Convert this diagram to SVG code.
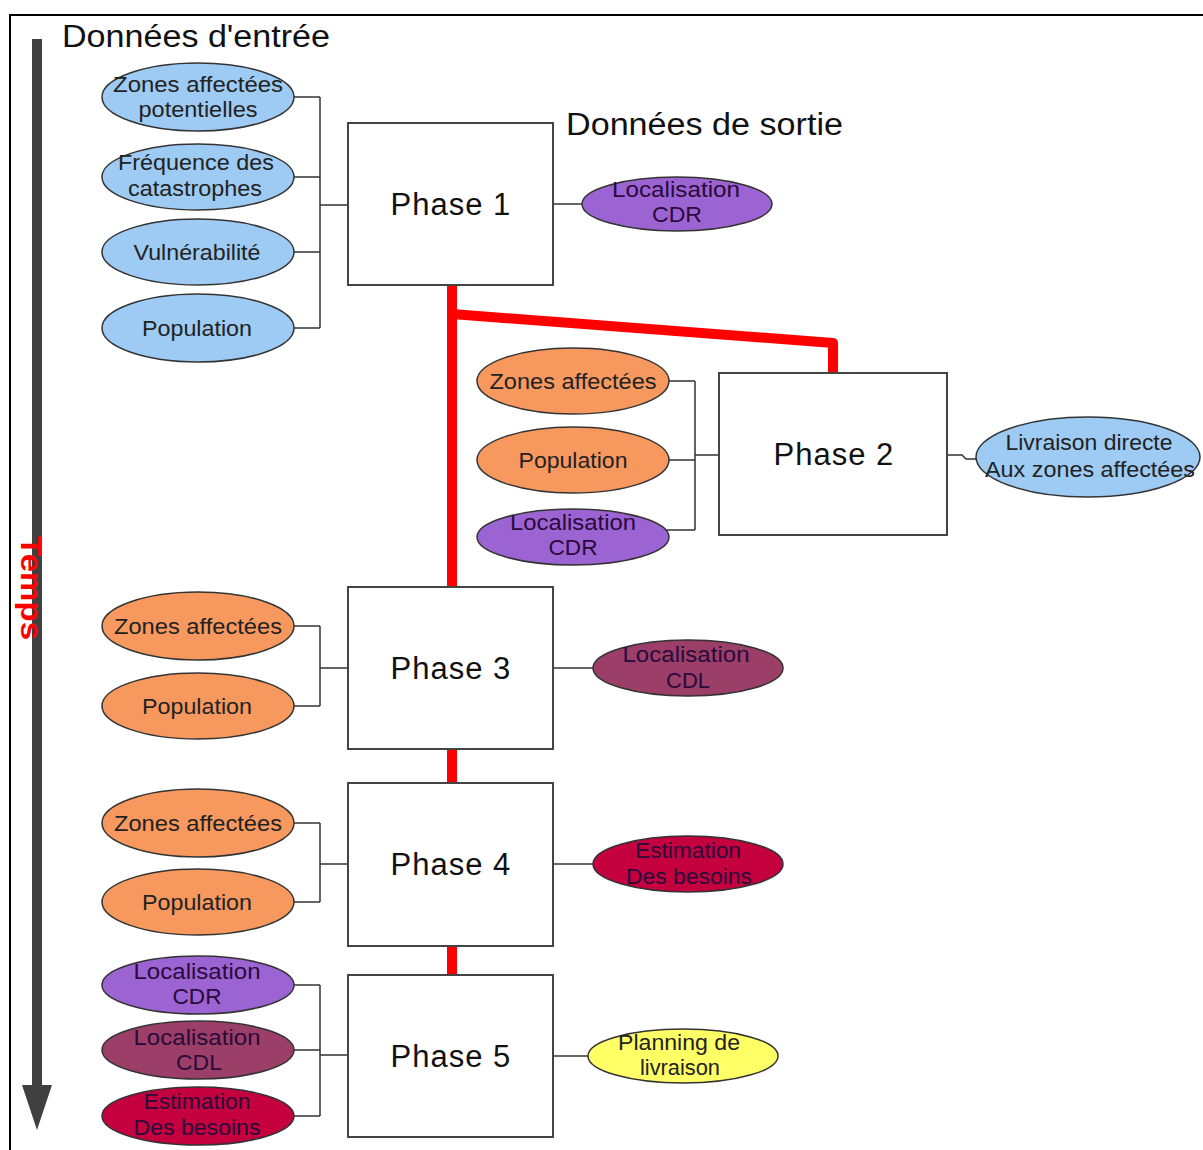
<svg xmlns="http://www.w3.org/2000/svg" width="1203" height="1150" viewBox="0 0 1203 1150">
<defs>
<style>
.frame{fill:none;stroke:#000;stroke-width:2}
.box{fill:#fff;stroke:#444;stroke-width:2}
.ell{stroke:#333;stroke-width:1.5}
.blue{fill:#9ecbf3}
.orange{fill:#f7995f}
.purple{fill:#9c64d2}
.maroon{fill:#9b3f68}
.crimson{fill:#c4003f}
.yellow{fill:#ffff66}
.t{font-family:"Liberation Sans",Arial,sans-serif;font-size:22px;fill:#222;text-anchor:middle}
.dk{fill:#2a0a3a}
.ph{font-family:"Liberation Sans",Arial,sans-serif;font-size:31px;fill:#111;text-anchor:middle;letter-spacing:1px}
.hd{font-family:"Liberation Sans",Arial,sans-serif;font-size:31px;fill:#111}
.con{fill:none;stroke:#333;stroke-width:1.5}
.red{fill:none;stroke:#ff0000;stroke-width:10}
</style>
</defs>
<rect class="frame" x="10" y="15" width="1200" height="1140"/>

<g id="time-axis">
<rect x="32" y="39" width="10" height="1050" fill="#404040"/>
<polygon points="22,1085 52,1085 37,1130" fill="#404040"/>
<text transform="translate(21,588) rotate(90)" font-family="'Liberation Sans',Arial,sans-serif" font-size="30" font-weight="bold" fill="#ff0000" text-anchor="middle" textLength="104" lengthAdjust="spacingAndGlyphs">Temps</text>
</g>

<g id="headings">
<text class="hd" x="62" y="47" textLength="268" lengthAdjust="spacingAndGlyphs">Données d'entrée</text>
<text class="hd" x="566" y="135" textLength="277" lengthAdjust="spacingAndGlyphs">Données de sortie</text>
</g>

<g id="connectors">
<path class="con" d="M294,97 H320 M294,177 H320 M294,252 H320 M294,328 H320 M320,97 V328 M320,205 H348"/>
<path class="con" d="M553,204 H582"/>
<path class="con" d="M669,381 H695 M669,460 H695 M665,530 H695 M695,381 V530 M695,455 H719"/>
<path class="con" d="M947,455 H962 L966,459 H976"/>
<path class="con" d="M294,626 H320 M294,706 H320 M320,626 V706 M320,668 H348"/>
<path class="con" d="M553,668 H593"/>
<path class="con" d="M294,823 H320 M294,902 H320 M320,823 V902 M320,864 H348"/>
<path class="con" d="M553,864 H593"/>
<path class="con" d="M294,985 H320 M294,1050 H320 M294,1116 H320 M320,985 V1116 M320,1055 H348"/>
<path class="con" d="M553,1056 H588"/>
<path class="red" d="M452,285 V587"/>
<path class="red" d="M452,314 L833,343 V373" stroke-linejoin="round"/>
<path class="red" d="M452,749 V783"/>
<path class="red" d="M452,947 V974" stroke-linecap="round"/>
</g>

<g id="phase1">
<rect class="box" x="348" y="123" width="205" height="162"/>
<text class="ph" x="451" y="215">Phase 1</text>
</g>
<g id="phase2">
<rect class="box" x="719" y="373" width="228" height="162"/>
<text class="ph" x="834" y="465">Phase 2</text>
</g>
<g id="phase3">
<rect class="box" x="348" y="587" width="205" height="162"/>
<text class="ph" x="451" y="679">Phase 3</text>
</g>
<g id="phase4">
<rect class="box" x="348" y="783" width="205" height="163"/>
<text class="ph" x="451" y="875">Phase 4</text>
</g>
<g id="phase5">
<rect class="box" x="348" y="975" width="205" height="162"/>
<text class="ph" x="451" y="1067">Phase 5</text>
</g>

<g id="in1-zones">
<ellipse class="ell blue" cx="198" cy="97" rx="96" ry="34"/>
<text class="t" x="198" y="92" textLength="170" lengthAdjust="spacingAndGlyphs">Zones affectées</text>
<text class="t" x="198" y="117" textLength="119" lengthAdjust="spacingAndGlyphs">potentielles</text>
</g>
<g id="in1-frequence">
<ellipse class="ell blue" cx="198" cy="177" rx="96" ry="33"/>
<text class="t" x="196" y="170" textLength="156" lengthAdjust="spacingAndGlyphs">Fréquence des</text>
<text class="t" x="195" y="196" textLength="134" lengthAdjust="spacingAndGlyphs">catastrophes</text>
</g>
<g id="in1-vulnerabilite">
<ellipse class="ell blue" cx="198" cy="252" rx="96" ry="33"/>
<text class="t" x="197" y="260" textLength="127" lengthAdjust="spacingAndGlyphs">Vulnérabilité</text>
</g>
<g id="in1-population">
<ellipse class="ell blue" cx="198" cy="328" rx="96" ry="34"/>
<text class="t" x="197" y="336" textLength="110" lengthAdjust="spacingAndGlyphs">Population</text>
</g>
<g id="out1-cdr">
<ellipse class="ell purple" cx="677" cy="204" rx="95" ry="27"/>
<text class="t dk" x="676" y="197" textLength="128" lengthAdjust="spacingAndGlyphs">Localisation</text>
<text class="t dk" x="677" y="222" textLength="50" lengthAdjust="spacingAndGlyphs">CDR</text>
</g>

<g id="in2-zones">
<ellipse class="ell orange" cx="573" cy="381" rx="96" ry="33"/>
<text class="t" x="573" y="389" textLength="167" lengthAdjust="spacingAndGlyphs">Zones affectées</text>
</g>
<g id="in2-population">
<ellipse class="ell orange" cx="573" cy="460" rx="96" ry="33"/>
<text class="t" x="573" y="468" textLength="109" lengthAdjust="spacingAndGlyphs">Population</text>
</g>
<g id="in2-cdr">
<ellipse class="ell purple" cx="573" cy="537" rx="96" ry="28"/>
<text class="t dk" x="573" y="530" textLength="126" lengthAdjust="spacingAndGlyphs">Localisation</text>
<text class="t dk" x="573" y="555" textLength="49" lengthAdjust="spacingAndGlyphs">CDR</text>
</g>
<g id="out2-livraison">
<ellipse class="ell blue" cx="1088" cy="457" rx="112" ry="40"/>
<text class="t" x="1089" y="450" textLength="167" lengthAdjust="spacingAndGlyphs">Livraison directe</text>
<text class="t" x="1090" y="477" textLength="210" lengthAdjust="spacingAndGlyphs">Aux zones affectées</text>
</g>

<g id="in3-zones">
<ellipse class="ell orange" cx="198" cy="626" rx="96" ry="34"/>
<text class="t" x="198" y="634" textLength="168" lengthAdjust="spacingAndGlyphs">Zones affectées</text>
</g>
<g id="in3-population">
<ellipse class="ell orange" cx="198" cy="706" rx="96" ry="33"/>
<text class="t" x="197" y="714" textLength="110" lengthAdjust="spacingAndGlyphs">Population</text>
</g>
<g id="out3-cdl">
<ellipse class="ell maroon" cx="688" cy="668" rx="95" ry="28"/>
<text class="t dk" x="686" y="662" textLength="127" lengthAdjust="spacingAndGlyphs">Localisation</text>
<text class="t dk" x="688" y="688" textLength="44" lengthAdjust="spacingAndGlyphs">CDL</text>
</g>

<g id="in4-zones">
<ellipse class="ell orange" cx="198" cy="823" rx="96" ry="34"/>
<text class="t" x="198" y="831" textLength="168" lengthAdjust="spacingAndGlyphs">Zones affectées</text>
</g>
<g id="in4-population">
<ellipse class="ell orange" cx="198" cy="902" rx="96" ry="33"/>
<text class="t" x="197" y="910" textLength="110" lengthAdjust="spacingAndGlyphs">Population</text>
</g>
<g id="out4-besoins">
<ellipse class="ell crimson" cx="688" cy="864" rx="95" ry="28"/>
<text class="t dk" x="688" y="858" textLength="106" lengthAdjust="spacingAndGlyphs">Estimation</text>
<text class="t dk" x="689" y="884" textLength="126" lengthAdjust="spacingAndGlyphs">Des besoins</text>
</g>

<g id="in5-cdr">
<ellipse class="ell purple" cx="198" cy="985" rx="96" ry="29"/>
<text class="t dk" x="197" y="979" textLength="127" lengthAdjust="spacingAndGlyphs">Localisation</text>
<text class="t dk" x="197" y="1004" textLength="49" lengthAdjust="spacingAndGlyphs">CDR</text>
</g>
<g id="in5-cdl">
<ellipse class="ell maroon" cx="198" cy="1050" rx="96" ry="29"/>
<text class="t dk" x="197" y="1045" textLength="127" lengthAdjust="spacingAndGlyphs">Localisation</text>
<text class="t dk" x="199" y="1070" textLength="46" lengthAdjust="spacingAndGlyphs">CDL</text>
</g>
<g id="in5-besoins">
<ellipse class="ell crimson" cx="198" cy="1116" rx="96" ry="29"/>
<text class="t dk" x="197" y="1109" textLength="107" lengthAdjust="spacingAndGlyphs">Estimation</text>
<text class="t dk" x="197" y="1135" textLength="127" lengthAdjust="spacingAndGlyphs">Des besoins</text>
</g>
<g id="out5-planning">
<ellipse class="ell yellow" cx="683" cy="1056" rx="95" ry="27"/>
<text class="t" x="679" y="1050" textLength="122" lengthAdjust="spacingAndGlyphs">Planning de</text>
<text class="t" x="680" y="1075" textLength="80" lengthAdjust="spacingAndGlyphs">livraison</text>
</g>
</svg>
